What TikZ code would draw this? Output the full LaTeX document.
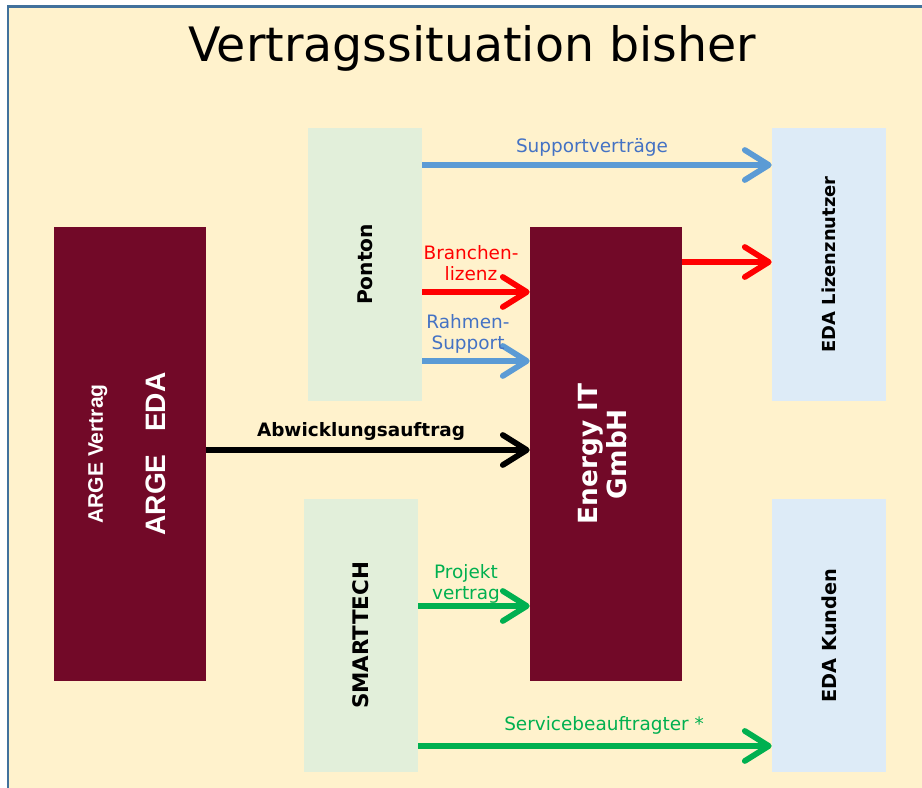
\documentclass[tikz,border=0pt]{standalone}
\usepackage{fontspec}
\setmainfont{DejaVu Sans}
\newfontfamily\argefont{Liberation Sans}
\usetikzlibrary{arrows.meta}

\definecolor{cream}{RGB}{255,242,204}
\definecolor{frameblue}{RGB}{65,113,156}
\definecolor{maroon}{RGB}{114,9,40}
\definecolor{boxgreen}{RGB}{226,239,218}
\definecolor{boxblue}{RGB}{221,235,247}
\definecolor{arrblue}{RGB}{91,155,213}
\definecolor{txtblue}{RGB}{68,114,196}
\definecolor{arrgreen}{RGB}{0,176,80}

\newcommand{\vtext}[1]{\rotatebox{90}{\begin{tabular}{@{}c@{}}#1\end{tabular}}}

\begin{document}
\begin{tikzpicture}[x=0.02cm,y=0.02cm,
    darkbox/.style={fill=maroon,text=white,inner sep=0pt,
      minimum width=3.04cm,minimum height=9.08cm},
    greenbox/.style={fill=boxgreen,inner sep=0pt,
      minimum width=2.28cm,minimum height=5.46cm},
    bluebox/.style={fill=boxblue,inner sep=0pt,
      minimum width=2.28cm,minimum height=5.46cm},
    arr/.style={line width=0.115cm,-{Straight Barb[length=0.48cm,width=0.6cm,round]}},
    lbl/.style={inner sep=0pt,align=center,font=\fontsize{10.5}{12}\selectfont}]
  \clip (0,0) rectangle (922,787);
  \fill[white] (0,0) rectangle (922,787);
  \draw[fill=cream,draw=frameblue,line width=0.06cm] (8,-20) rectangle (950,780);

  \node[font=\fontsize{27}{32}\selectfont] (title) at (472,739) {Vertragssituation bisher};

  % boxes
  \node[darkbox] (arge) at (130,333) {\argefont\rotatebox{90}{\begin{tabular}{@{}c@{}}
      \fontsize{12}{14}\selectfont\bfseries ARGE Vertrag\\[21pt]
      \fontsize{16}{18}\selectfont\bfseries ARGE\hspace{0.8em}EDA\end{tabular}}};
  \node[darkbox] (energy) at (606,333)
    {\fontsize{15}{17}\selectfont\bfseries\vtext{Energy IT\\GmbH}};
  \node[greenbox] (ponton) at (365,522.5)
    {\fontsize{11.5}{14}\selectfont\bfseries\rotatebox{90}{Ponton}};
  \node[greenbox] (smart) at (361,151.5)
    {\fontsize{12.2}{14}\selectfont\bfseries\rotatebox{90}{SMARTTECH}};
  \node[bluebox] (lnutzer) at (829,522.5)
    {\fontsize{10.2}{12}\selectfont\bfseries\rotatebox{90}{EDA Lizenznutzer}};
  \node[bluebox] (kunden) at (829,151.5)
    {\fontsize{11}{13}\selectfont\bfseries\rotatebox{90}{EDA Kunden}};

  % arrow start points
  \coordinate (sup) at ([yshift=1.99cm]ponton.east);
  \coordinate (lic) at ([yshift=3.84cm]energy.east);
  \coordinate (bra) at ([yshift=-0.55cm]ponton.east);
  \coordinate (rah) at ([yshift=-1.93cm]ponton.east);
  \coordinate (abw) at ([yshift=0.08cm]arge.east);
  \coordinate (pro) at ([yshift=0.59cm]smart.east);
  \coordinate (ser) at ([yshift=-2.21cm]smart.east);

  \draw[arr,arrblue] (sup) -- (sup -| lnutzer.west)
    node[lbl,midway,above=3.5pt,xshift=-0.1cm,text=txtblue] {Supportverträge};
  \draw[arr,red] (lic) -- (lic -| lnutzer.west);
  \draw[arr,red] (bra) -- (bra -| energy.west)
    node[lbl,midway,above=4.5pt,xshift=-0.1cm,text=red] {Branchen-\\lizenz};
  \draw[arr,arrblue] (rah) -- (rah -| energy.west)
    node[lbl,midway,above=2.8pt,xshift=-0.16cm,text=txtblue] {Rahmen-\\Support};
  \draw[arr,black] (abw) -- (abw -| energy.west)
    node[lbl,midway,above=4pt,xshift=-0.14cm,font=\fontsize{10.5}{12}\selectfont\bfseries] {Abwicklungsauftrag};
  \draw[arr,arrgreen] (pro) -- (pro -| energy.west)
    node[lbl,midway,above=0pt,xshift=-0.16cm,text=arrgreen] {Projekt\\vertrag};
  \draw[arr,arrgreen] (ser) -- (ser -| kunden.west)
    node[lbl,midway,above=5pt,xshift=0.18cm,text=arrgreen] {Servicebeauftragter *};
\end{tikzpicture}
\end{document}
